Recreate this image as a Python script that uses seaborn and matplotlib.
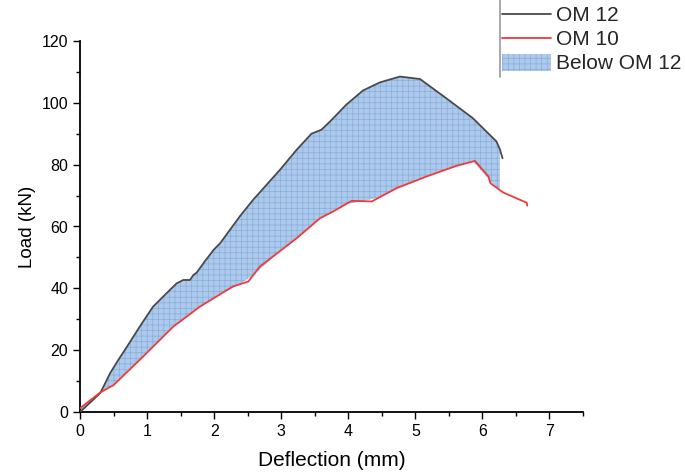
import numpy as np
import pandas as pd
import seaborn as sns
import matplotlib
matplotlib.use("Agg")
import matplotlib.pyplot as plt
from matplotlib.lines import Line2D

# ---- data ----
om12_x = [0.0, 0.15, 0.30, 0.35, 0.45, 0.57, 0.70, 0.89, 1.09, 1.29, 1.44, 1.54, 1.64, 1.69,
          1.74, 1.84, 1.99, 2.09, 2.38, 2.58, 2.98, 3.23, 3.45, 3.60, 3.73, 3.97, 4.22, 4.47,
          4.77, 5.07, 5.46, 5.86, 6.21, 6.26, 6.30]
om12_y = [0.0, 3.0, 6.1, 8.2, 12.6, 16.8, 21.1, 27.6, 34.1, 38.4, 41.6, 42.7, 42.7, 44.3,
          45.1, 48.1, 52.4, 54.6, 63.2, 68.6, 78.3, 84.8, 90.0, 91.3, 94.0, 99.4, 104.0, 106.6,
          108.5, 107.7, 101.5, 95.0, 87.5, 85.0, 82.1]

om10_x = [0.0, 0.30, 0.50, 0.94, 1.39, 1.79, 2.28, 2.51, 2.68, 3.23, 3.58, 3.77, 4.05, 4.35,
          4.72, 5.17, 5.61, 5.89, 6.09, 6.12, 6.31, 6.66, 6.67]
om10_y = [1.2, 6.3, 8.7, 17.9, 27.6, 34.1, 40.6, 42.2, 47.0, 56.2, 62.7, 64.8, 68.3, 68.1,
          72.4, 76.2, 79.6, 81.2, 76.2, 74.0, 71.0, 67.7, 66.7]

fill_end = 6.26
x_ticks = [0, 1, 2, 3, 4, 5, 6, 7]
y_ticks = [0, 20, 40, 60, 80, 100, 120]

sns.set_theme(style="ticks")
plt.rcParams['font.family'] = ['Liberation Sans', 'DejaVu Sans']
plt.rcParams['hatch.linewidth'] = 0.5

fig = plt.figure(figsize=(6.85, 4.73), dpi=100)
ax = fig.add_axes([80/685, 61/473, 503/685, 371/473])

df12 = pd.DataFrame({"x": om12_x, "y": om12_y})
df10 = pd.DataFrame({"x": om10_x, "y": om10_y})

# fill between curves
fx = np.array([v for v in om12_x if v <= fill_end])
fy_top = np.array(om12_y[:len(fx)])
fy_bot = np.interp(fx, om10_x, om10_y)
ax.fill_between(fx, fy_bot, fy_top, facecolor='#adc9eb', edgecolor='#88aedc',
                hatch='+++', linewidth=0, label='Below OM 12', zorder=1)

sns.lineplot(data=df12, x="x", y="y", ax=ax, color='#4a4a4a', lw=1.3, sort=False,
             label='OM 12', zorder=3)
sns.lineplot(data=df10, x="x", y="y", ax=ax, color='#ee3a3a', lw=1.3, sort=False,
             label='OM 10', zorder=3)
if ax.get_legend() is not None:
    ax.get_legend().remove()

ax.set_xlim(0, 7.5)
ax.set_ylim(0, 120)
ax.set_xticks(x_ticks)
ax.set_yticks(y_ticks)
ax.set_xticks(np.arange(0.5, 7.6, 1.0), minor=True)
ax.set_yticks(np.arange(10, 120, 20), minor=True)
ax.tick_params(axis='both', which='major', length=5, width=1.0, labelsize=11.5, direction='out', color='black', labelcolor='black')
ax.tick_params(axis='both', which='minor', length=3, width=1.0, direction='out', color='black')
for s in ['top', 'right']:
    ax.spines[s].set_visible(False)
for s in ['left', 'bottom']:
    ax.spines[s].set_color('black')
    ax.spines[s].set_linewidth(1.3)
ax.set_xlabel('Deflection (mm)', fontsize=15, color='black', labelpad=9)
ax.set_ylabel('Load (kN)', fontsize=13.5, color='black')
ax.grid(False)

handles, labels = ax.get_legend_handles_labels()
order = [labels.index(l) for l in ['OM 12', 'OM 10', 'Below OM 12']]
leg = fig.legend([handles[i] for i in order], [labels[i] for i in order],
                 loc='upper left', bbox_to_anchor=(498/685, 0.997), frameon=False,
                 fontsize=15, handlelength=2.35, handletextpad=0.25, labelspacing=0.2,
                 handleheight=0.9, borderpad=0.2, borderaxespad=0)
fig.add_artist(Line2D([500/685, 500/685], [(473-77)/473, 1.0], transform=fig.transFigure,
                      color='#999999', lw=1.2))

fig.savefig('out.png', dpi=100)
